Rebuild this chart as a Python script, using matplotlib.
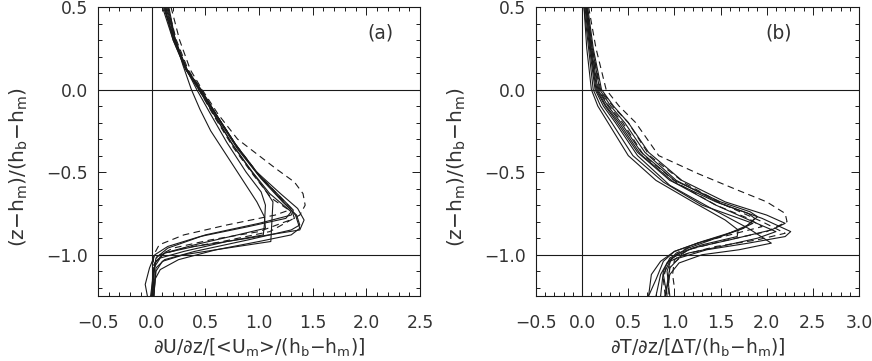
import numpy as np
import matplotlib
matplotlib.use("Agg")
import matplotlib.pyplot as plt
from matplotlib.ticker import MultipleLocator

plt.rcParams['font.family'] = ['DejaVu Sans']
plt.rcParams['mathtext.fontset'] = 'dejavusans'

# ---- panel (a): dU/dz profiles (x, y)
a_s1 = [(0.16, 0.5), (0.22, 0.3), (0.29, 0.15), (0.37, 0.0), (0.45, -0.12), (0.55, -0.25), (0.70, -0.4),
        (0.85, -0.55), (0.98, -0.68), (1.05, -0.77), (1.06, -0.84), (0.80, -0.88), (0.40, -0.94),
        (0.12, -0.99), (0.04, -1.04), (0.01, -1.12), (0.0, -1.25)]
a_s2 = [(0.13, 0.5), (0.22, 0.3), (0.32, 0.12), (0.44, 0.0), (0.58, -0.15), (0.74, -0.32), (0.90, -0.47),
        (1.05, -0.6), (1.13, -0.68), (1.12, -0.80), (1.11, -0.92), (0.70, -0.96), (0.30, -1.0),
        (0.10, -1.04), (0.04, -1.1), (0.02, -1.25)]
a_s3 = [(0.12, 0.5), (0.21, 0.3), (0.33, 0.12), (0.45, 0.0), (0.60, -0.15), (0.78, -0.33), (0.98, -0.5),
        (1.20, -0.63), (1.36, -0.72), (1.42, -0.79), (1.38, -0.85), (0.90, -0.90), (0.40, -0.95),
        (0.12, -0.99), (0.03, -1.05), (0.01, -1.25)]
a_s4 = [(0.14, 0.5), (0.22, 0.3), (0.33, 0.12), (0.46, 0.0), (0.62, -0.17), (0.80, -0.35), (1.00, -0.52),
        (1.20, -0.65), (1.32, -0.73), (1.30, -0.76), (1.00, -0.81), (0.50, -0.88), (0.15, -0.96),
        (0.04, -1.02), (0.02, -1.1), (-0.01, -1.25)]
a_s5 = [(0.10, 0.5), (0.20, 0.3), (0.32, 0.12), (0.45, 0.0), (0.60, -0.16), (0.80, -0.36), (1.02, -0.54),
        (1.22, -0.68), (1.35, -0.76), (1.38, -0.82), (1.30, -0.85), (0.90, -0.91), (0.40, -0.98),
        (0.12, -1.03), (0.04, -1.08), (0.02, -1.25)]
a_s6 = [(0.15, 0.5), (0.22, 0.3), (0.31, 0.14), (0.42, 0.0), (0.55, -0.15), (0.70, -0.32), (0.88, -0.5),
        (1.02, -0.62), (1.06, -0.7), (1.05, -0.82), (1.04, -0.88), (0.70, -0.92), (0.30, -0.98),
        (0.08, -1.02), (0.02, -1.08), (0.0, -1.25)]
a_s7 = [(0.11, 0.5), (0.21, 0.3), (0.33, 0.12), (0.46, 0.0), (0.61, -0.16), (0.80, -0.35), (1.00, -0.52),
        (1.20, -0.66), (1.34, -0.76), (1.38, -0.84), (1.30, -0.88), (1.00, -0.92), (0.60, -0.97),
        (0.25, -1.03), (0.08, -1.09), (0.03, -1.15), (0.02, -1.25)]
a_s8 = [(0.12, 0.5), (0.20, 0.3), (0.31, 0.13), (0.44, 0.0), (0.58, -0.15), (0.76, -0.34), (0.94, -0.5),
        (1.10, -0.63), (1.30, -0.74), (1.25, -0.78), (0.90, -0.83), (0.45, -0.89), (0.15, -0.95),
        (0.03, -1.0), (-0.02, -1.08), (-0.06, -1.18), (-0.04, -1.25)]
a_d1 = [(0.18, 0.5), (0.26, 0.3), (0.36, 0.12), (0.47, 0.0), (0.62, -0.15), (0.80, -0.3), (0.96, -0.38),
        (1.16, -0.48), (1.33, -0.56), (1.41, -0.63), (1.43, -0.70), (1.38, -0.76), (1.10, -0.86),
        (0.66, -0.92), (0.30, -0.96), (0.08, -1.0), (0.02, -1.06), (0.01, -1.25)]
a_d2 = [(0.13, 0.5), (0.21, 0.3), (0.32, 0.13), (0.44, 0.0), (0.58, -0.16), (0.76, -0.35), (0.95, -0.52),
        (1.12, -0.66), (1.28, -0.73), (1.15, -0.76), (0.70, -0.82), (0.30, -0.88), (0.07, -0.94),
        (0.02, -1.0), (0.01, -1.1), (0.01, -1.25)]
a_d3 = [(0.15, 0.5), (0.23, 0.3), (0.34, 0.12), (0.46, 0.0), (0.60, -0.15), (0.78, -0.33), (0.98, -0.5),
        (1.18, -0.64), (1.30, -0.72), (1.33, -0.78), (1.00, -0.86), (0.55, -0.91), (0.20, -0.96),
        (0.05, -1.01), (0.02, -1.1), (0.02, -1.25)]

# ---- panel (b): dT/dz profiles
b_s1 = [(0.02, 0.5), (0.05, 0.25), (0.10, 0.0), (0.17, -0.1), (0.28, -0.2), (0.50, -0.4), (0.80, -0.55),
        (1.20, -0.68), (1.55, -0.79), (1.69, -0.85), (1.68, -0.89), (1.30, -0.94), (1.05, -0.99),
        (0.92, -1.05), (0.85, -1.12), (0.80, -1.25)]
b_s2 = [(0.04, 0.5), (0.09, 0.25), (0.15, 0.0), (0.25, -0.1), (0.38, -0.2), (0.60, -0.38), (0.95, -0.55),
        (1.45, -0.68), (1.80, -0.75), (1.87, -0.78), (1.80, -0.82), (1.55, -0.88), (1.25, -0.93),
        (1.00, -0.98), (0.88, -1.04), (0.80, -1.15), (0.72, -1.25)]
b_s3 = [(0.05, 0.5), (0.10, 0.25), (0.17, 0.0), (0.28, -0.1), (0.42, -0.2), (0.64, -0.38), (1.00, -0.55),
        (1.50, -0.68), (1.82, -0.74), (1.90, -0.77), (1.75, -0.84), (1.45, -0.90), (1.15, -0.96),
        (0.95, -1.02), (0.88, -1.1), (0.85, -1.25)]
b_s4 = [(0.06, 0.5), (0.12, 0.25), (0.21, 0.0), (0.34, -0.1), (0.50, -0.2), (0.72, -0.38), (1.08, -0.55),
        (1.55, -0.68), (2.00, -0.76), (2.20, -0.81), (2.05, -0.85), (1.60, -0.91), (1.20, -0.96),
        (0.97, -1.02), (0.92, -1.1), (0.95, -1.25)]
b_s5 = [(0.05, 0.5), (0.11, 0.25), (0.19, 0.0), (0.31, -0.1), (0.46, -0.2), (0.68, -0.38), (1.02, -0.55),
        (1.50, -0.69), (1.95, -0.78), (2.26, -0.86), (2.20, -0.89), (1.80, -0.93), (1.35, -0.97),
        (1.05, -1.02), (0.95, -1.08), (0.90, -1.25)]
b_s6 = [(0.03, 0.5), (0.08, 0.25), (0.14, 0.0), (0.23, -0.1), (0.36, -0.2), (0.60, -0.4), (0.95, -0.58),
        (1.40, -0.72), (1.80, -0.84), (2.05, -0.93), (1.70, -0.97), (1.30, -1.0), (1.05, -1.05),
        (0.95, -1.12), (0.90, -1.25)]
b_s7 = [(0.02, 0.5), (0.07, 0.25), (0.12, 0.0), (0.20, -0.1), (0.32, -0.2), (0.55, -0.4), (0.88, -0.56),
        (1.30, -0.70), (1.70, -0.78), (1.85, -0.81), (1.70, -0.85), (1.30, -0.92), (1.00, -0.98),
        (0.85, -1.04), (0.75, -1.12), (0.72, -1.25)]
b_s8 = [(0.04, 0.5), (0.09, 0.25), (0.16, 0.0), (0.26, -0.1), (0.40, -0.2), (0.63, -0.39), (0.99, -0.56),
        (1.45, -0.70), (1.85, -0.80), (2.10, -0.86), (1.90, -0.90), (1.50, -0.95), (1.15, -0.99),
        (0.95, -1.04), (0.88, -1.12), (0.92, -1.25)]
b_d1 = [(0.07, 0.5), (0.15, 0.25), (0.26, 0.0), (0.40, -0.1), (0.58, -0.2), (0.83, -0.40), (1.26, -0.51),
        (1.69, -0.61), (2.00, -0.68), (2.20, -0.75), (2.22, -0.80), (2.00, -0.86), (1.50, -0.92),
        (1.15, -0.97), (1.00, -1.03), (0.98, -1.12), (1.00, -1.20)]
b_d2 = [(0.05, 0.5), (0.11, 0.25), (0.20, 0.0), (0.33, -0.1), (0.50, -0.2), (0.73, -0.4), (1.12, -0.57),
        (1.55, -0.70), (1.95, -0.80), (2.20, -0.87), (1.90, -0.91), (1.45, -0.95), (1.10, -1.0),
        (0.95, -1.07), (0.93, -1.25)]
b_d3 = [(0.04, 0.5), (0.10, 0.25), (0.18, 0.0), (0.29, -0.1), (0.44, -0.2), (0.67, -0.4), (1.04, -0.57),
        (1.45, -0.70), (1.80, -0.78), (1.95, -0.83), (1.60, -0.88), (1.25, -0.93), (1.02, -0.99),
        (0.92, -1.05), (0.88, -1.15), (0.90, -1.25)]

a_solid = [a_s1, a_s2, a_s3, a_s4, a_s5, a_s6, a_s7, a_s8]
a_dashed = [a_d1, a_d2, a_d3]
b_solid = [b_s1, b_s2, b_s3, b_s4, b_s5, b_s6, b_s7, b_s8]
b_dashed = [b_d1, b_d2, b_d3]

ylabel = '(z\u2212h$_\\mathrm{m}$)/(h$_\\mathrm{b}$\u2212h$_\\mathrm{m}$)'
a_xlabel = '\u2202U/\u2202z/[<U$_\\mathrm{m}$>/(h$_\\mathrm{b}$\u2212h$_\\mathrm{m}$)]'
b_xlabel = '\u2202T/\u2202z/[\u0394T/(h$_\\mathrm{b}$\u2212h$_\\mathrm{m}$)]'

line_col = '#1a1a1a'
txt_col = '#333333'


def draw_panel(ax, solid, dashed, xmax, tag, xlabel):
    for c in solid:
        c = np.array(c)
        ax.plot(c[:, 0], c[:, 1], color=line_col, lw=0.8)
    for c in dashed:
        c = np.array(c)
        ax.plot(c[:, 0], c[:, 1], color=line_col, lw=0.8, dashes=(6, 4))
    ax.axhline(0.0, color=line_col, lw=0.8)
    ax.axhline(-1.0, color=line_col, lw=0.8)
    ax.axvline(0.0, color=line_col, lw=0.8)
    ax.set_xlim(-0.5, xmax)
    ax.set_ylim(-1.25, 0.5)
    ax.xaxis.set_major_locator(MultipleLocator(0.5))
    ax.xaxis.set_minor_locator(MultipleLocator(0.1))
    ax.yaxis.set_major_locator(MultipleLocator(0.5))
    ax.yaxis.set_minor_locator(MultipleLocator(0.1))
    ax.tick_params(which='both', direction='in', top=True, right=True,
                   colors=line_col, labelcolor=txt_col, labelsize=12.3, width=0.7)
    ax.tick_params(which='major', length=6)
    ax.tick_params(which='minor', length=3)
    ax.tick_params(axis='x', pad=13)
    ax.tick_params(axis='y', pad=7)
    for s in ax.spines.values():
        s.set_linewidth(0.8)
        s.set_color(line_col)
    ax.text(2.13, 0.34, tag, fontsize=13.5, color=txt_col, ha='center', va='center')
    ax.text(0.5, -0.18, xlabel, transform=ax.transAxes, ha='center', va='center',
            fontsize=13.5, color=txt_col)
    ax.text(-0.245, 0.446, ylabel, transform=ax.transAxes, ha='center', va='center',
            rotation=90, fontsize=14.5, color=txt_col)


fig = plt.figure(figsize=(8.72, 3.61), dpi=100)
ax1 = fig.add_axes([98 / 872, 65 / 361, 322 / 872, 289 / 361])
ax2 = fig.add_axes([536 / 872, 65 / 361, 323 / 872, 289 / 361])

draw_panel(ax1, a_solid, a_dashed, 2.5, '(a)', a_xlabel)
draw_panel(ax2, b_solid, b_dashed, 3.0, '(b)', b_xlabel)

fig.savefig('out.png', dpi=100)
